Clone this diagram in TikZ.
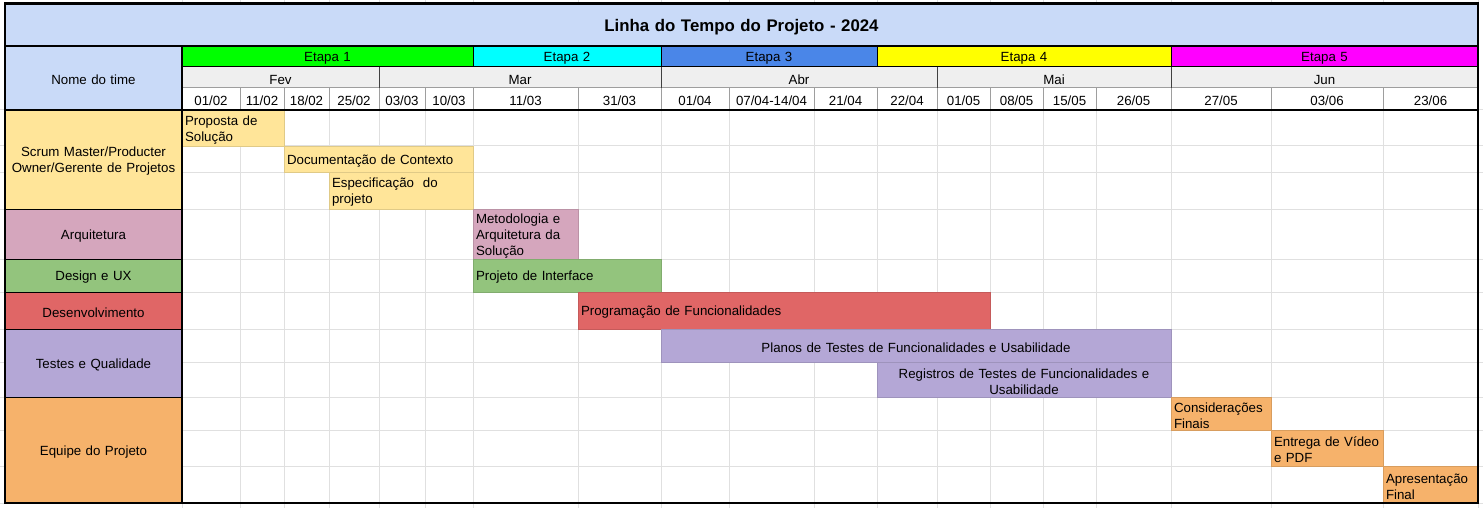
\documentclass[tikz,border=0pt]{standalone}
\usepackage{fontspec}
\setmainfont{Liberation Sans}
\definecolor{hdrblue}{HTML}{C9DAF8}
\definecolor{et1}{HTML}{00FF00}
\definecolor{et2}{HTML}{00FFFF}
\definecolor{et3}{HTML}{4A86E8}
\definecolor{et4}{HTML}{FFFF00}
\definecolor{et5}{HTML}{FF00FF}
\definecolor{monthgray}{HTML}{EFEFEF}
\definecolor{cscrum}{HTML}{FFE599}
\definecolor{carq}{HTML}{D5A6BD}
\definecolor{cdesign}{HTML}{93C47D}
\definecolor{cdev}{HTML}{E06666}
\definecolor{ctest}{HTML}{B4A7D6}
\definecolor{cequipe}{HTML}{F6B26B}
\definecolor{gridc}{HTML}{E0E0E0}
\definecolor{sepgray}{HTML}{9E9E9E}
\newcommand\mkcell[8]{% name, x1, y1, x2, y2, box style, text style, text
  \pgfmathsetmacro\mkcw{#4-#2}%
  \pgfmathsetmacro\mkch{#5-#3}%
  \pgfmathsetmacro\mkctw{#4-#2-6}%
  \pgfmathsetmacro\mkccx{(#2+#4)/2}%
  \pgfmathsetmacro\mkccy{(#3+#5)/2}%
  \node[cellbox,#6,minimum width=\mkcw pt,minimum height=\mkch pt] (#1) at (\mkccx,\mkccy) {};%
  \node[celltext,#7,text width=\mkctw pt] (#1-t) at ([yshift=-2pt]#1.center) {#8};%
}
\tikzset{
  cellbox/.style={rectangle,inner sep=0pt,outer sep=0pt},
  celltext/.style={rectangle,inner xsep=3pt,inner ysep=0pt,outer sep=0pt,align=center,
    font=\fontsize{13.3}{16}\selectfont},
  titletext/.style={font=\bfseries\fontsize{16.8}{19}\selectfont},
  lefttext/.style={align=left},
  hdrcell/.style={fill=hdrblue},
  monthcell/.style={fill=monthgray},
  datecell/.style={fill=white},
  barcell/.style={fill=#1,draw=#1!88!black,line width=0.7pt},
  gridline/.style={draw=gridc,line width=1pt},
  thickline/.style={draw=black,line width=2.4pt},
  thinblack/.style={draw=black,line width=1pt},
  thingray/.style={draw=sepgray,line width=1pt},
}
\begin{document}
\begin{tikzpicture}[x=1pt,y=-1pt]
\useasboundingbox (0,0) rectangle (1483,508);
\fill[white] (0,0) rectangle (1483,508);
% spreadsheet grid
\foreach \xx in {182,240,284,329,379,425,473,578,661,729,814,877,937,990,1043,1096,1171,1271,1383,1478}
  \draw[gridline] (\xx,0) -- (\xx,508);
\foreach \yy in {110,146,172,209,259,292,329,362,397,430,466,503}
  \draw[gridline] (0,\yy) -- (1483,\yy);
% title and header
\mkcell{title}{5}{3.5}{1478}{46}{hdrcell}{titletext}{Linha do Tempo do Projeto - 2024}
\mkcell{nome}{5}{46}{182}{110}{hdrcell}{}{Nome do time}
\mkcell{etapa1}{182}{46}{473}{67}{fill=et1}{}{Etapa 1}
\mkcell{etapa2}{473}{46}{661}{67}{fill=et2}{}{Etapa 2}
\mkcell{etapa3}{661}{46}{877}{67}{fill=et3}{}{Etapa 3}
\mkcell{etapa4}{877}{46}{1171}{67}{fill=et4}{}{Etapa 4}
\mkcell{etapa5}{1171}{46}{1478}{67}{fill=et5}{}{Etapa 5}
\mkcell{fev}{182}{67}{379}{88}{monthcell}{}{Fev}
\mkcell{mar}{379}{67}{661}{88}{monthcell}{}{Mar}
\mkcell{abr}{661}{67}{937}{88}{monthcell}{}{Abr}
\mkcell{mai}{937}{67}{1171}{88}{monthcell}{}{Mai}
\mkcell{jun}{1171}{67}{1478}{88}{monthcell}{}{Jun}
\mkcell{d1}{182}{88}{240}{110}{datecell}{}{01/02}
\mkcell{d2}{240}{88}{284}{110}{datecell}{}{11/02}
\mkcell{d3}{284}{88}{329}{110}{datecell}{}{18/02}
\mkcell{d4}{329}{88}{379}{110}{datecell}{}{25/02}
\mkcell{d5}{379}{88}{425}{110}{datecell}{}{03/03}
\mkcell{d6}{425}{88}{473}{110}{datecell}{}{10/03}
\mkcell{d7}{473}{88}{578}{110}{datecell}{}{11/03}
\mkcell{d8}{578}{88}{661}{110}{datecell}{}{31/03}
\mkcell{d9}{661}{88}{729}{110}{datecell}{}{01/04}
\mkcell{d10}{729}{88}{814}{110}{datecell}{}{07/04-14/04}
\mkcell{d11}{814}{88}{877}{110}{datecell}{}{21/04}
\mkcell{d12}{877}{88}{937}{110}{datecell}{}{22/04}
\mkcell{d13}{937}{88}{990}{110}{datecell}{}{01/05}
\mkcell{d14}{990}{88}{1043}{110}{datecell}{}{08/05}
\mkcell{d15}{1043}{88}{1096}{110}{datecell}{}{15/05}
\mkcell{d16}{1096}{88}{1171}{110}{datecell}{}{26/05}
\mkcell{d17}{1171}{88}{1271}{110}{datecell}{}{27/05}
\mkcell{d18}{1271}{88}{1383}{110}{datecell}{}{03/06}
\mkcell{d19}{1383}{88}{1478}{110}{datecell}{}{23/06}
% team column
\mkcell{scrum}{5}{110}{182}{209}{fill=cscrum}{}{Scrum Master/Producter\\Owner/Gerente de Projetos}
\mkcell{arq}{5}{209}{182}{259}{fill=carq}{}{Arquitetura}
\mkcell{design}{5}{259}{182}{292}{fill=cdesign}{}{Design e UX}
\mkcell{dev}{5}{292}{182}{329}{fill=cdev}{}{Desenvolvimento}
\mkcell{testes}{5}{329}{182}{397}{fill=ctest}{}{Testes e Qualidade}
\mkcell{equipe}{5}{397}{182}{503}{fill=cequipe}{}{Equipe do Projeto}
% bars
\mkcell{b1}{182}{110}{284}{146}{barcell=cscrum}{lefttext}{Proposta de\\Solução}
\mkcell{b2}{284}{146}{473}{172}{barcell=cscrum}{lefttext}{Documentação de Contexto}
\mkcell{b3}{329}{172}{473}{209}{barcell=cscrum}{lefttext}{Especificação\ \ do\\projeto}
\mkcell{b4}{473}{209}{578}{259}{barcell=carq}{lefttext}{Metodologia e\\Arquitetura da\\Solução}
\mkcell{b5}{473}{259}{661}{292}{barcell=cdesign}{lefttext}{Projeto de Interface}
\mkcell{b6}{578}{292}{990}{329}{barcell=cdev}{lefttext}{Programação de Funcionalidades}
\mkcell{b7}{661}{329}{1171}{362}{barcell=ctest}{}{Planos de Testes de Funcionalidades e Usabilidade}
\mkcell{b8}{877}{362}{1171}{397}{barcell=ctest}{}{Registros de Testes de Funcionalidades e\\Usabilidade}
\mkcell{b9}{1171}{397}{1271}{430}{barcell=cequipe}{lefttext}{Considerações\\Finais}
\mkcell{b10}{1271}{430}{1383}{466}{barcell=cequipe}{lefttext}{Entrega de Vídeo\\e PDF}
\mkcell{b11}{1383}{466}{1478}{503}{barcell=cequipe}{lefttext}{Apresentação\\Final}
% header separators
\draw[thinblack] (etapa1.south west) -- (etapa5.south east);
\draw[thingray] (fev.south west) -- (jun.south east);
\foreach \ee in {etapa1,etapa2,etapa3,etapa4}
  \draw[thinblack] (\ee.north east) -- (\ee.south east);
\foreach \mm in {fev,mar,abr,mai}
  \draw[draw=black!75,line width=1pt] (\mm.north east) -- (\mm.south east);
\foreach \dd in {d1,d2,d3,d4,d5,d6,d7,d8,d9,d10,d11,d12,d13,d14,d15,d16,d17,d18}
  \draw[thingray] (\dd.north east) -- (\dd.south east);
% team separators
\foreach \tt in {scrum,arq,design,dev,testes}
  \draw[thinblack] (\tt.south west) -- (\tt.south east);
% thick borders
\draw[thickline] (title.south west) -- (title.south east);
\draw[thickline] (nome.south west) -- (d19.south east);
\draw[thickline] (nome.north east) -- (equipe.south east);
\draw[thickline] (title.north west) rectangle (b11.south east);
\end{tikzpicture}
\end{document}
